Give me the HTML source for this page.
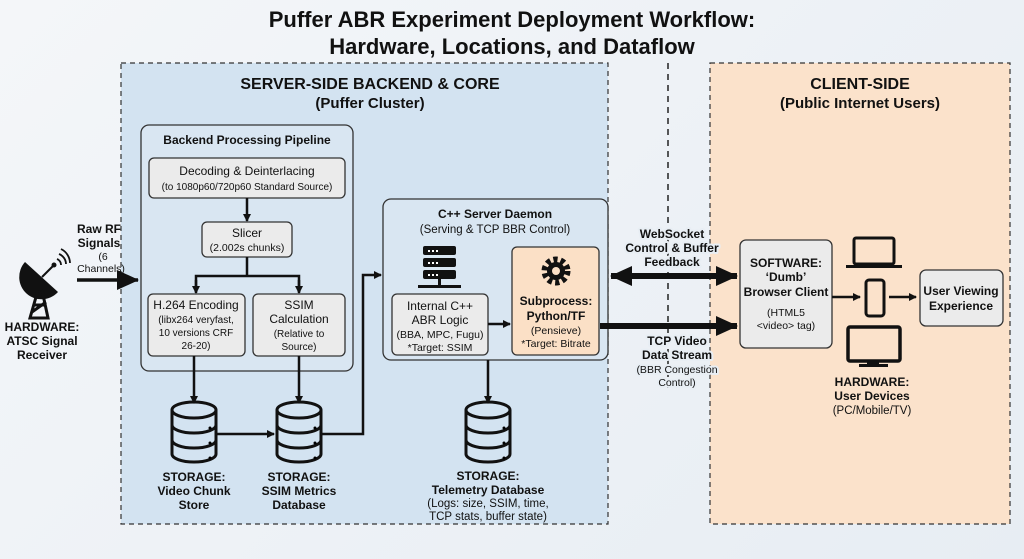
<!DOCTYPE html>
<html><head><meta charset="utf-8"><style>
body{margin:0;width:1024px;height:559px;overflow:hidden;background:linear-gradient(135deg,#f4f6f9,#e7edf3);font-family:"Liberation Sans",sans-serif;}
svg{position:absolute;left:0;top:0}
text{font-family:"Liberation Sans",sans-serif;fill:#111}
.b{font-weight:bold}
.h{paint-order:stroke;stroke:#e8eef4;stroke-width:4px;stroke-linejoin:round}
</style></head><body>
<svg width="1024" height="559" viewBox="0 0 1024 559">
<defs>
<marker id="a" markerWidth="8" markerHeight="8" refX="7" refY="4" orient="auto" markerUnits="userSpaceOnUse"><path d="M0,0 L8,4 L0,8z" fill="#111"/></marker>
<marker id="A" markerWidth="22" markerHeight="20" refX="21" refY="10" orient="auto" markerUnits="userSpaceOnUse"><path d="M0,0 L22,10 L0,20z" fill="#111"/></marker>
<marker id="As" markerWidth="22" markerHeight="20" refX="1" refY="10" orient="auto" markerUnits="userSpaceOnUse"><path d="M22,0 L0,10 L22,20z" fill="#111"/></marker>
<g id="db"><ellipse cx="0" cy="-22" rx="22" ry="8" fill="none" stroke="#111" stroke-width="3"/><path d="M-22,-22 V22 A22,8 0 0 0 22,22 V-22 M-22,-7 A22,8 0 0 0 22,-7 M-22,8 A22,8 0 0 0 22,8" fill="none" stroke="#111" stroke-width="3"/><circle cx="16" cy="-4" r="1.5"/><circle cx="16" cy="11" r="1.5"/><circle cx="16" cy="26" r="1.5"/></g>
</defs>
<text x="512" y="27" text-anchor="middle" class="b" font-size="22">Puffer ABR Experiment Deployment Workflow:</text>
<text x="512" y="54" text-anchor="middle" class="b" font-size="22">Hardware, Locations, and Dataflow</text>
<rect x="121" y="63" width="487" height="461" fill="#d3e3f1" stroke="#333" stroke-dasharray="5,4" stroke-width="1.2"/>
<rect x="710" y="63" width="300" height="461" fill="#fbe2cb" stroke="#333" stroke-dasharray="5,4" stroke-width="1.2"/>
<line x1="668" y1="63" x2="668" y2="390" stroke="#222" stroke-dasharray="6,5" stroke-width="1.5"/>
<text x="370" y="89" text-anchor="middle" class="b" font-size="16">SERVER-SIDE BACKEND &amp; CORE</text>
<text x="370" y="108" text-anchor="middle" class="b" font-size="15">(Puffer Cluster)</text>
<text x="860" y="89" text-anchor="middle" class="b" font-size="16">CLIENT-SIDE</text>
<text x="860" y="108" text-anchor="middle" class="b" font-size="15">(Public Internet Users)</text>
<!-- pipeline -->
<rect x="141" y="125" width="212" height="246" rx="8" fill="#d9e6f2" stroke="#333" stroke-width="1.3"/>
<text x="247" y="144" text-anchor="middle" class="b" font-size="12">Backend Processing Pipeline</text>
<rect x="149" y="158" width="196" height="40" rx="5" fill="#ebebeb" stroke="#333" stroke-width="1.3"/>
<text x="247" y="175" text-anchor="middle" font-size="12">Decoding &amp; Deinterlacing</text>
<text x="247" y="190" text-anchor="middle" font-size="10">(to 1080p60/720p60 Standard Source)</text>
<line x1="247" y1="198" x2="247" y2="221" stroke="#111" stroke-width="2.5" marker-end="url(#a)"/>
<rect x="202" y="222" width="90" height="35" rx="5" fill="#ebebeb" stroke="#333" stroke-width="1.3"/>
<text x="247" y="237" text-anchor="middle" font-size="12">Slicer</text>
<text x="247" y="251" text-anchor="middle" font-size="10.5">(2.002s chunks)</text>
<path d="M247,257 V276 M196,292 V276 H299 V292" fill="none" stroke="#111" stroke-width="2.5"/>
<line x1="196" y1="280" x2="196" y2="293" stroke="#111" stroke-width="2.5" marker-end="url(#a)"/>
<line x1="299" y1="280" x2="299" y2="293" stroke="#111" stroke-width="2.5" marker-end="url(#a)"/>
<rect x="148" y="294" width="97" height="62" rx="5" fill="#ebebeb" stroke="#333" stroke-width="1.3"/>
<text x="196" y="309" text-anchor="middle" font-size="12">H.264 Encoding</text>
<text x="196" y="323" text-anchor="middle" font-size="10">(libx264 veryfast,</text>
<text x="196" y="336" text-anchor="middle" font-size="10">10 versions CRF</text>
<text x="196" y="349" text-anchor="middle" font-size="10">26-20)</text>
<rect x="253" y="294" width="92" height="62" rx="5" fill="#ebebeb" stroke="#333" stroke-width="1.3"/>
<text x="299" y="309" text-anchor="middle" font-size="12">SSIM</text>
<text x="299" y="323" text-anchor="middle" font-size="12">Calculation</text>
<text x="299" y="337" text-anchor="middle" font-size="10">(Relative to</text>
<text x="299" y="350" text-anchor="middle" font-size="10">Source)</text>
<line x1="194" y1="356" x2="194" y2="403" stroke="#111" stroke-width="2.5" marker-end="url(#a)"/>
<line x1="299" y1="356" x2="299" y2="403" stroke="#111" stroke-width="2.5" marker-end="url(#a)"/>
<use href="#db" x="194" y="432"/><use href="#db" x="299" y="432"/><use href="#db" x="488" y="432"/>
<line x1="217" y1="434" x2="274" y2="434" stroke="#111" stroke-width="2.5" marker-end="url(#a)"/>
<path d="M321,434 H363 V275 H381" fill="none" stroke="#111" stroke-width="2.5" marker-end="url(#a)"/>
<g font-size="12" text-anchor="middle">
<text x="194" y="481" class="b">STORAGE:</text><text x="194" y="495" class="b">Video Chunk</text><text x="194" y="509" class="b">Store</text>
<text x="299" y="481" class="b">STORAGE:</text><text x="299" y="495" class="b">SSIM Metrics</text><text x="299" y="509" class="b">Database</text>
<text x="488" y="480" class="b">STORAGE:</text><text x="488" y="494" class="b">Telemetry Database</text>
</g>
<text x="488" y="507" text-anchor="middle" font-size="11.5">(Logs: size, SSIM, time,</text>
<text x="488" y="520" text-anchor="middle" font-size="11.5">TCP stats, buffer state)</text>
<!-- daemon -->
<rect x="383" y="199" width="225" height="161" rx="8" fill="#d9e6f2" stroke="#333" stroke-width="1.3"/>
<text x="495" y="218" text-anchor="middle" class="b" font-size="12">C++ Server Daemon</text>
<text x="495" y="233" text-anchor="middle" font-size="11.5">(Serving &amp; TCP BBR Control)</text>
<g fill="#111"><rect x="423" y="246" width="33" height="9" rx="2"/><rect x="423" y="258" width="33" height="9" rx="2"/><rect x="423" y="270" width="33" height="9" rx="2"/><rect x="438" y="279" width="3" height="6"/><rect x="418" y="285" width="43" height="3"/></g>
<g fill="#fff"><rect x="428" y="250" width="2" height="2"/><rect x="432" y="250" width="2" height="2"/><rect x="436" y="250" width="2" height="2"/><rect x="428" y="262" width="2" height="2"/><rect x="432" y="262" width="2" height="2"/><rect x="436" y="262" width="2" height="2"/><rect x="428" y="274" width="2" height="2"/><rect x="432" y="274" width="2" height="2"/><rect x="436" y="274" width="2" height="2"/></g>
<rect x="392" y="294" width="96" height="61" rx="5" fill="#ebebeb" stroke="#333" stroke-width="1.3"/>
<text x="440" y="310" text-anchor="middle" font-size="12">Internal C++</text>
<text x="440" y="324" text-anchor="middle" font-size="12">ABR Logic</text>
<text x="440" y="338" text-anchor="middle" font-size="10.5">(BBA, MPC, Fugu)</text>
<text x="440" y="351" text-anchor="middle" font-size="10.5">*Target: SSIM</text>
<line x1="488" y1="324" x2="510" y2="324" stroke="#111" stroke-width="2.5" marker-end="url(#a)"/>
<rect x="512" y="247" width="87" height="108" rx="5" fill="#fbe0c6" stroke="#333" stroke-width="1.3"/>
<circle cx="556" cy="271" r="11" fill="none" stroke="#111" stroke-width="7" stroke-dasharray="4,3"/><circle cx="556" cy="271" r="9" fill="#111"/><circle cx="556" cy="271" r="4" fill="#fbe0c6"/>
<text x="556" y="305" text-anchor="middle" class="b" font-size="12">Subprocess:</text>
<text x="556" y="320" text-anchor="middle" class="b" font-size="12">Python/TF</text>
<text x="556" y="334" text-anchor="middle" font-size="10.5">(Pensieve)</text>
<text x="556" y="347" text-anchor="middle" font-size="10.5">*Target: Bitrate</text>
<line x1="488" y1="360" x2="488" y2="403" stroke="#111" stroke-width="2.5" marker-end="url(#a)"/>
<!-- connectors -->
<line x1="611" y1="276" x2="737" y2="276" stroke="#111" stroke-width="6" marker-end="url(#A)" marker-start="url(#As)"/>
<line x1="600" y1="326" x2="737" y2="326" stroke="#111" stroke-width="6" marker-end="url(#A)"/>
<g class="h">
<text x="672" y="238" text-anchor="middle" class="b h" font-size="12">WebSocket</text>
<text x="672" y="252" text-anchor="middle" class="b h" font-size="12">Control &amp; Buffer</text>
<text x="672" y="266" text-anchor="middle" class="b h" font-size="12">Feedback</text>
<text x="677" y="345" text-anchor="middle" class="b h" font-size="12">TCP Video</text>
<text x="677" y="359" text-anchor="middle" class="b h" font-size="12">Data Stream</text>
<text x="677" y="373" text-anchor="middle" class="h" font-size="10.5">(BBR Congestion</text>
<text x="677" y="386" text-anchor="middle" class="h" font-size="10.5">Control)</text>
</g>
<!-- client -->
<rect x="740" y="240" width="92" height="108" rx="6" fill="#ebebeb" stroke="#333" stroke-width="1.3"/>
<text x="786" y="267" text-anchor="middle" class="b" font-size="12">SOFTWARE:</text>
<text x="786" y="281" text-anchor="middle" class="b" font-size="12">‘Dumb’</text>
<text x="786" y="296" text-anchor="middle" class="b" font-size="12">Browser Client</text>
<text x="786" y="316" text-anchor="middle" font-size="10.5">(HTML5</text>
<text x="786" y="329" text-anchor="middle" font-size="10.5">&lt;video&gt; tag)</text>
<line x1="832" y1="297" x2="860" y2="297" stroke="#111" stroke-width="2.5" marker-end="url(#a)"/>
<rect x="854" y="238" width="40" height="26" rx="2" fill="none" stroke="#111" stroke-width="3"/><rect x="846" y="265" width="56" height="3" fill="#111"/>
<rect x="866" y="280" width="18" height="36" rx="3" fill="none" stroke="#111" stroke-width="3"/>
<line x1="889" y1="297" x2="916" y2="297" stroke="#111" stroke-width="2.5" marker-end="url(#a)"/>
<rect x="848" y="327" width="52" height="34" rx="2" fill="none" stroke="#111" stroke-width="3.5"/><rect x="867" y="361" width="12" height="4" fill="#111"/><rect x="859" y="364" width="29" height="3" fill="#111"/>
<rect x="920" y="270" width="83" height="56" rx="6" fill="#ebebeb" stroke="#333" stroke-width="1.3"/>
<text x="961" y="295" text-anchor="middle" class="b" font-size="12">User Viewing</text>
<text x="961" y="310" text-anchor="middle" class="b" font-size="12">Experience</text>
<text x="872" y="386" text-anchor="middle" class="b" font-size="12">HARDWARE:</text>
<text x="872" y="400" text-anchor="middle" class="b" font-size="12">User Devices</text>
<text x="872" y="414" text-anchor="middle" font-size="11.5">(PC/Mobile/TV)</text>
<!-- antenna -->
<path d="M25,262 A22,22 0 0 0 58,292 Z" fill="#111"/>
<path d="M38,290 L30,318 H48 L42,290 M33,305 H46 M32,312 L46,302" fill="none" stroke="#111" stroke-width="3"/>
<line x1="42" y1="277" x2="53" y2="266" stroke="#111" stroke-width="2"/><circle cx="54" cy="265" r="2.5" fill="#111"/>
<path d="M57,259 A6,6 0 0 1 61,265 M59,254 A11,11 0 0 1 66,264 M61,249 A16,16 0 0 1 70,263" fill="none" stroke="#111" stroke-width="1.8"/>
<text x="42" y="331" text-anchor="middle" class="b" font-size="12">HARDWARE:</text>
<text x="42" y="345" text-anchor="middle" class="b" font-size="12">ATSC Signal</text>
<text x="42" y="359" text-anchor="middle" class="b" font-size="12">Receiver</text>
<text x="99" y="233" text-anchor="middle" class="b" font-size="12">Raw RF</text>
<text x="99" y="247" text-anchor="middle" class="b" font-size="12">Signals</text>
<text x="103" y="260" text-anchor="middle" font-size="10.5">(6</text>
<text x="101" y="272" text-anchor="middle" font-size="10.5">Channels)</text>
<line x1="77" y1="280" x2="138" y2="280" stroke="#111" stroke-width="3.5" marker-end="url(#A)"/>
</svg>
</body></html>
